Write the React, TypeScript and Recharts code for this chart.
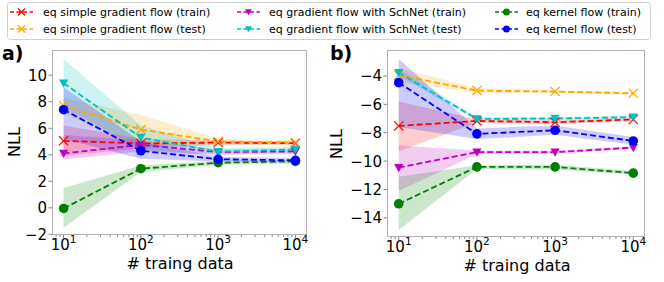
import React from 'react';
import { ComposedChart, Line, Area, XAxis, YAxis } from 'recharts';

// x positions (log axis)
const trainSizes = [10, 100, 1000, 10000];
const xMajorTicks = [10, 100, 1000, 10000];
const yTicksA = [-2, 0, 2, 4, 6, 8, 10];
const yTicksB = [-14, -12, -10, -8, -6, -4];

// panel a) values and [low, high] bands
const simpleTrainA = [5.05, 4.85, 4.92, 4.88];
const simpleTrainBandA = [[3.9, 6.2], [4.5, 5.2], [4.75, 5.05], [4.75, 5.0]];
const simpleTestA = [7.7, 5.9, 5.0, 4.93];
const simpleTestBandA = [[7.1, 8.3], [4.6, 7.0], [4.8, 5.2], [4.8, 5.1]];
const schnetTrainA = [4.1, 4.75, 4.2, 4.25];
const schnetTrainBandA = [[3.65, 5.5], [4.25, 5.1], [4.0, 4.4], [4.05, 4.45]];
const schnetTestA = [9.4, 5.3, 4.23, 4.4];
const schnetTestBandA = [[7.6, 11.2], [4.4, 6.2], [4.0, 4.5], [4.15, 4.6]];
const kernelTrainA = [-0.05, 2.95, 3.4, 3.5];
const kernelTrainBandA = [[-1.5, 1.5], [2.7, 3.2], [3.25, 3.55], [3.35, 3.6]];
const kernelTestA = [7.4, 4.3, 3.66, 3.58];
const kernelTestBandA = [[5.2, 9.1], [3.7, 5.0], [3.5, 3.85], [3.45, 3.75]];

// panel b)
const simpleTrainB = [-7.52, -7.17, -7.26, -7.07];
const simpleTrainBandB = [[-9.3, -5.8], [-7.3, -7.05], [-7.4, -7.1], [-7.2, -6.95]];
const simpleTestB = [-3.95, -5.03, -5.1, -5.22];
const simpleTestBandB = [[-4.4, -3.45], [-5.2, -4.85], [-5.2, -5.0], [-5.32, -5.12]];
const schnetTrainB = [-10.46, -9.37, -9.37, -9.05];
const schnetTrainBandB = [[-12.1, -8.9], [-9.5, -9.25], [-9.5, -9.25], [-9.15, -8.95]];
const schnetTestB = [-3.77, -7.03, -7.0, -6.91];
const schnetTestBandB = [[-4.0, -3.5], [-7.15, -6.9], [-7.1, -6.9], [-7.0, -6.8]];
const kernelTrainB = [-13.01, -10.41, -10.41, -10.85];
const kernelTrainBandB = [[-14.85, -11.1], [-10.55, -10.3], [-10.6, -10.25], [-10.95, -10.7]];
const kernelTestB = [-4.47, -8.08, -7.83, -8.58];
const kernelTestBandB = [[-7.6, -2.8], [-8.45, -7.7], [-8.15, -7.5], [-8.85, -8.3]];

const SERIES = [
  { key: 'simpleTrain', label: 'eq simple gradient flow (train)', color: '#ff0000', marker: 'x' },
  { key: 'simpleTest', label: 'eq simple gradient flow (test)', color: '#ffa500', marker: 'x' },
  { key: 'schnetTrain', label: 'eq gradient flow with SchNet (train)', color: '#bf00bf', marker: 'v' },
  { key: 'schnetTest', label: 'eq gradient flow with SchNet (test)', color: '#00bfbf', marker: 'v' },
  { key: 'kernelTrain', label: 'eq kernel flow (train)', color: '#008000', marker: 'o' },
  { key: 'kernelTest', label: 'eq kernel flow (test)', color: '#0000ff', marker: 'o' },
];

const buildRows = (cols: Record<string, { v: number[]; band: number[][] }>) =>
  trainSizes.map((n, i) => {
    const row: any = { n };
    Object.keys(cols).forEach((k) => {
      row[k] = cols[k].v[i];
      row[k + 'Band'] = cols[k].band[i];
    });
    return row;
  });

const dataA = buildRows({
  simpleTrain: { v: simpleTrainA, band: simpleTrainBandA },
  simpleTest: { v: simpleTestA, band: simpleTestBandA },
  schnetTrain: { v: schnetTrainA, band: schnetTrainBandA },
  schnetTest: { v: schnetTestA, band: schnetTestBandA },
  kernelTrain: { v: kernelTrainA, band: kernelTrainBandA },
  kernelTest: { v: kernelTestA, band: kernelTestBandA },
});

const dataB = buildRows({
  simpleTrain: { v: simpleTrainB, band: simpleTrainBandB },
  simpleTest: { v: simpleTestB, band: simpleTestBandB },
  schnetTrain: { v: schnetTrainB, band: schnetTrainBandB },
  schnetTest: { v: schnetTestB, band: schnetTestBandB },
  kernelTrain: { v: kernelTrainB, band: kernelTrainBandB },
  kernelTest: { v: kernelTestB, band: kernelTestBandB },
});

// minor ticks of a log axis: 2..9 × each decade
const xMinorTicks: number[] = [8, 9];
[1, 10, 100, 1000].forEach((d) => {
  for (let m = 2; m <= 9; m++) {
    const v = d * 10 * m;
    if (v < 14000) xMinorTicks.push(v);
  }
});

const FONT = '"DejaVu Sans", sans-serif';
const SPINE = '#b0b0b0';
const X_DOMAIN = [Math.pow(10, 0.85), Math.pow(10, 4.15)];

const drawMarker = (kind: string, color: string, cx: number, cy: number, s = 5) => {
  if (kind === 'x') {
    return (
      <g>
        <line x1={cx - s} y1={cy - s} x2={cx + s} y2={cy + s} stroke={color} strokeWidth={1.2} />
        <line x1={cx - s} y1={cy + s} x2={cx + s} y2={cy - s} stroke={color} strokeWidth={1.2} />
      </g>
    );
  }
  if (kind === 'v') {
    return (
      <polygon
        points={`${cx - s},${cy - s * 0.8} ${cx + s},${cy - s * 0.8} ${cx},${cy + s}`}
        fill={color}
      />
    );
  }
  return <circle cx={cx} cy={cy} r={s} fill={color} />;
};

const XTick = ({ x, y, payload }: any) => {
  const v = payload.value;
  const exp = Math.round(Math.log10(v));
  const major = Math.abs(Math.pow(10, exp) - v) < 1e-6;
  return (
    <g>
      <line x1={x} y1={y} x2={x} y2={y + (major ? 3.5 : 2)} stroke="#666" strokeWidth={0.8} />
      {major && (
        <text x={x} y={y + 15} textAnchor="middle" fontSize={15} fontFamily={FONT} fill="#000">
          10
          <tspan dy={-7} fontSize={10.5}>{exp}</tspan>
        </text>
      )}
    </g>
  );
};

const YTick = ({ x, y, payload }: any) => {
  const v = payload.value;
  const label = v < 0 ? '\u2212' + Math.abs(v) : String(v);
  return (
    <g>
      <line x1={x} y1={y} x2={x - 3.5} y2={y} stroke="#666" strokeWidth={0.8} />
      <text x={x - 5} y={y + 5.5} textAnchor="end" fontSize={15} fontFamily={FONT} fill="#000">
        {label}
      </text>
    </g>
  );
};

type PanelProps = {
  data: any[];
  left: number;
  width: number;
  plot: { x: number; y: number; w: number; h: number };
  yDomain: number[];
  yTicks: number[];
};

function Panel({ data, left, width, plot, yDomain, yTicks }: PanelProps) {
  const yAxisWidth = 40;
  const xAxisHeight = 30;
  const margin = {
    top: plot.y,
    left: plot.x - left - yAxisWidth,
    right: left + width - (plot.x + plot.w),
    bottom: 282 - (plot.y + plot.h) - xAxisHeight,
  };
  return (
    <div style={{ position: 'absolute', left, top: 0 }}>
      <ComposedChart width={width} height={282} data={data} margin={margin}>
        <XAxis
          dataKey="n"
          type="number"
          scale="log"
          domain={X_DOMAIN}
          allowDataOverflow
          ticks={[...xMajorTicks, ...xMinorTicks]}
          interval={0}
          tick={<XTick />}
          tickLine={false}
          tickSize={0}
          tickMargin={0}
          axisLine={false}
          height={xAxisHeight}
        />
        <YAxis
          type="number"
          domain={yDomain}
          allowDataOverflow
          ticks={yTicks}
          interval={0}
          tick={<YTick />}
          tickLine={false}
          tickSize={0}
          tickMargin={0}
          axisLine={false}
          width={yAxisWidth}
        />
        {SERIES.map((s) => (
          <Area
            key={s.key + 'Band'}
            type="linear"
            dataKey={s.key + 'Band'}
            stroke="none"
            fill={s.color}
            fillOpacity={0.2}
            dot={false}
            activeDot={false}
            isAnimationActive={false}
          />
        ))}
        {SERIES.map((s) => (
          <Line
            key={s.key}
            type="linear"
            dataKey={s.key}
            stroke={s.color}
            strokeWidth={1.8}
            strokeDasharray="6 3"
            activeDot={false}
            dot={(p: any) => (
              <g key={s.key + p.index}>{drawMarker(s.marker, s.color, p.cx, p.cy, s.marker === 'o' ? 4.8 : 4.6)}</g>
            )}
            isAnimationActive={false}
          />
        ))}
      </ComposedChart>
      <div
        style={{
          position: 'absolute',
          left: plot.x - left,
          top: plot.y,
          width: plot.w,
          height: plot.h,
          border: `1px solid ${SPINE}`,
          boxSizing: 'border-box',
          pointerEvents: 'none',
        }}
      />
    </div>
  );
}

function Legend() {
  const cols = [
    { lineX: 10, textX: 43 },
    { lineX: 237, textX: 269 },
    { lineX: 495, textX: 526 },
  ];
  const rows = [12, 29];
  return (
    <svg width={664} height={44} style={{ position: 'absolute', left: 0, top: 0 }}>
      <rect x={7.5} y={2.5} width={643} height={37} rx={3} fill="#fff" fillOpacity={0.8} stroke="#d0d0d0" />
      {SERIES.map((s, i) => {
        const c = cols[Math.floor(i / 2)];
        const y = rows[i % 2];
        return (
          <g key={s.key}>
            <line x1={c.lineX} y1={y} x2={c.lineX + 23} y2={y} stroke={s.color} strokeWidth={1.5} strokeDasharray="4 2.5" />
            {drawMarker(s.marker, s.color, c.lineX + 11.5, y, 3.5)}
            <text x={c.textX} y={y + 4} fontSize={11} fontFamily={FONT} fill="#000">
              {s.label}
            </text>
          </g>
        );
      })}
    </svg>
  );
}

const textStyle: React.CSSProperties = {
  position: 'absolute',
  fontFamily: FONT,
  color: '#000',
  whiteSpace: 'nowrap',
  lineHeight: 1,
};

export default function App() {
  return (
    <div style={{ position: 'absolute', left: 0, top: 0, width: 664, height: 282, background: '#fff', overflow: 'hidden' }}>
      <Panel data={dataA} left={0} width={330} plot={{ x: 52, y: 50, w: 255, h: 185 }} yDomain={[-2.05, 11.9]} yTicks={yTicksA} />
      <Panel data={dataB} left={330} width={334} plot={{ x: 387, y: 50, w: 258, h: 187 }} yDomain={[-15.35, -2.17]} yTicks={yTicksB} />
      <Legend />
      <div style={{ ...textStyle, left: 2, top: 44, fontSize: 19, fontWeight: 'bold' }}>a)</div>
      <div style={{ ...textStyle, left: 330, top: 44, fontSize: 19, fontWeight: 'bold' }}>b)</div>
      <div style={{ ...textStyle, left: 15, top: 142, fontSize: 16, transform: 'translate(-50%, -50%) rotate(-90deg)' }}>NLL</div>
      <div style={{ ...textStyle, left: 337, top: 144, fontSize: 16, transform: 'translate(-50%, -50%) rotate(-90deg)' }}>NLL</div>
      <div style={{ ...textStyle, left: 180, top: 256, fontSize: 16, transform: 'translateX(-50%)' }}># traing data</div>
      <div style={{ ...textStyle, left: 517, top: 258, fontSize: 16, transform: 'translateX(-50%)' }}># traing data</div>
    </div>
  );
}
